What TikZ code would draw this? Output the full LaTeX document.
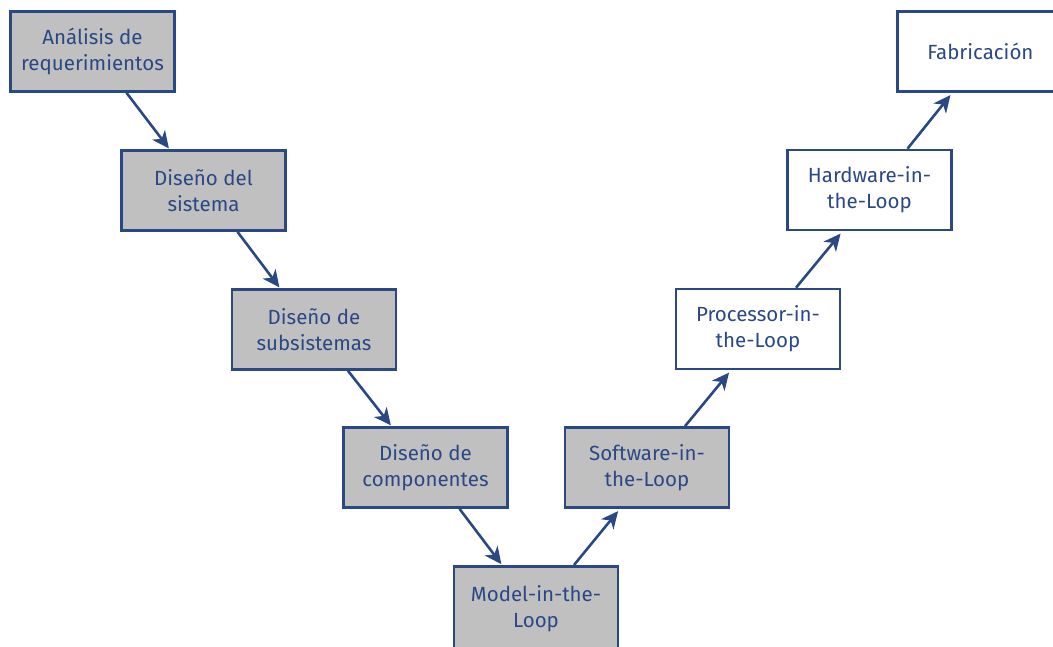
\documentclass[tikz,border=0pt]{standalone}
\usepackage{fontspec}
\setmainfont{Fira Sans}
\usetikzlibrary{arrows.meta}
\definecolor{navy}{HTML}{2A4884}
\definecolor{boxgray}{HTML}{C0C0C0}
\tikzset{
  stage/.style={draw=navy, line width=2.6pt, minimum width=164pt, minimum height=80pt,
    inner sep=0pt, align=center, text=navy, font=\fontsize{20.5pt}{26pt}\selectfont},
  design/.style={stage, fill=boxgray},
  test/.style={stage, fill=white},
  arr/.style={draw=navy, line width=2.6pt, -{Stealth[length=17pt,width=16pt,inset=5pt]}},
}
\begin{document}
\begin{tikzpicture}[x=1pt,y=1pt]
  \useasboundingbox (0,0) rectangle (1053,-646);
  \clip (0,0) rectangle (1053,-646);
  % left branch: design stages
  \node[design] (req) at (92.5,-51.5)  {Análisis de\\requerimientos};
  \node[design] (sys) at (203.5,-190.5) {Diseño del\\sistema};
  \node[design] (sub) at (314,-329.5)   {Diseño de\\subsistemas};
  \node[design] (comp) at (425.5,-467.5) {Diseño de\\componentes};
  % the bottom stage runs past the lower page edge
  \node[design, minimum height=100pt, text depth=20pt] (mil) at (536,-616.3) {Model-in-the-\\Loop};
  % right branch: verification stages
  \node[design] (sil) at (647,-467.5)   {Software-in-\\the-Loop};
  \node[test] (pil) at (758,-329)       {Processor-in-\\the-Loop};
  \node[test] (hil) at (869.5,-190)     {Hardware-in-\\the-Loop};
  % the last stage runs past the right page edge
  \node[test, minimum width=200pt, text width=166pt, align=left] (fab) at (997.3,-51.5)
    {\hspace*{13pt}Fabricación};
  % descending connectors
  \foreach \a/\b in {req/sys, sys/sub, sub/comp, comp/mil}
    \draw[arr, shorten >=1pt] ([xshift=34pt]\a.south) -- ([xshift=-34pt]\b.north);
  % ascending connectors
  \foreach \a/\b in {mil/sil, sil/pil, pil/hil}
    \draw[arr, shorten >=3pt] ([xshift=38pt]\a.north) -- ([xshift=-27pt]\b.south);
  \draw[arr, shorten >=3pt] ([xshift=38pt]hil.north) -- ([xshift=-45pt]fab.south);
\end{tikzpicture}
\end{document}
